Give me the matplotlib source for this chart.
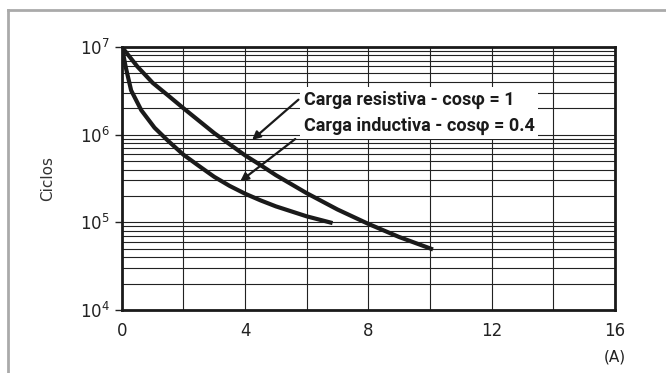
import numpy as np
import matplotlib.pyplot as plt
from matplotlib.ticker import LogLocator, FixedLocator, NullFormatter

# curve values (A, ciclos)
res_amp = [0.0, 0.5, 1.0, 1.5, 2.0, 3.0, 4.0, 4.5, 5.0, 6.0, 7.0, 8.0, 9.0, 10.1]
res_cyc = [1.0e7, 6.0e6, 3.9e6, 2.8e6, 2.0e6, 1.04e6, 5.8e5, 4.5e5, 3.45e5, 2.15e5,
           1.4e5, 9.6e4, 6.8e4, 4.9e4]

ind_amp = [0.0, 0.12, 0.3, 0.63, 1.06, 1.5, 2.0, 2.5, 3.0, 3.5, 4.0, 4.5, 5.0, 6.0, 6.84]
ind_cyc = [1.0e7, 6.0e6, 3.2e6, 1.9e6, 1.2e6, 8.5e5, 5.9e5, 4.4e5, 3.3e5, 2.6e5,
           2.12e5, 1.78e5, 1.52e5, 1.17e5, 9.8e4]

x_ticks = [0, 4, 8, 12, 16]
lbl_res = 'Carga resistiva - cos\u03c6 = 1'
lbl_ind = 'Carga inductiva - cos\u03c6 = 0.4'

fig = plt.figure(figsize=(6.66, 3.73), dpi=100)
ax = fig.add_axes([0.183, 0.169, 0.74, 0.705])

ax.set_yscale('log')
ax.set_xlim(0, 16)
ax.set_ylim(1e4, 1e7)

ax.xaxis.set_major_locator(FixedLocator(x_ticks))
ax.xaxis.set_minor_locator(FixedLocator(np.arange(0, 17, 2)))
ax.yaxis.set_major_locator(LogLocator(base=10, numticks=10))
ax.yaxis.set_minor_locator(LogLocator(base=10, subs=np.arange(2, 10), numticks=30))
ax.yaxis.set_minor_formatter(NullFormatter())

ax.grid(True, which='both', axis='both', color='#222222', lw=0.8, zorder=0)
ax.set_axisbelow(True)
for s in ax.spines.values():
    s.set_linewidth(2.0)
    s.set_color('#1a1a1a')

ax.tick_params(axis='x', which='both', length=0, pad=9, labelsize=12, colors='#222222')
ax.tick_params(axis='y', which='major', length=5, width=1, labelsize=12, colors='#222222')
ax.tick_params(axis='y', which='minor', length=0)

for xs, ys in [(res_amp, res_cyc), (ind_amp, ind_cyc)]:
    ax.plot(xs, ys, color='#1a1a1a', lw=3, solid_capstyle='butt',
            solid_joinstyle='round', zorder=3)

ax.set_ylabel('Ciclos', fontsize=11, color='#333333', labelpad=18)
ax.text(1.0, -0.18, '(A)', transform=ax.transAxes, ha='center', va='center',
        fontsize=11, color='#222222')

fam = ['Roboto', 'DejaVu Sans']
ax.text(5.9, 10**6.5, lbl_res + '\n' + lbl_ind, ha='left', va='top',
        fontsize=13, fontweight='bold', family=fam, color='#1a1a1a',
        linespacing=1.6, zorder=4,
        bbox=dict(boxstyle='square,pad=0.2', fc='white', ec='none'))

arrow = dict(arrowstyle='-|>', color='#1a1a1a', lw=1.6, mutation_scale=12)
ax.annotate('', xy=(4.16, 8.3e5), xytext=(5.8, 10**6.42), arrowprops=arrow, zorder=5)
ax.annotate('', xy=(3.77, 2.8e5), xytext=(5.7, 10**5.97), arrowprops=arrow, zorder=5)

# grey frame round the picture (top and left only)
fig.add_artist(plt.Line2D([0.012, 1.0], [0.973, 0.973], color='#aaaaaa', lw=2,
                          transform=fig.transFigure))
fig.add_artist(plt.Line2D([0.012, 0.012], [0.0, 0.973], color='#aaaaaa', lw=2,
                          transform=fig.transFigure))

fig.savefig('out.png', dpi=100)
